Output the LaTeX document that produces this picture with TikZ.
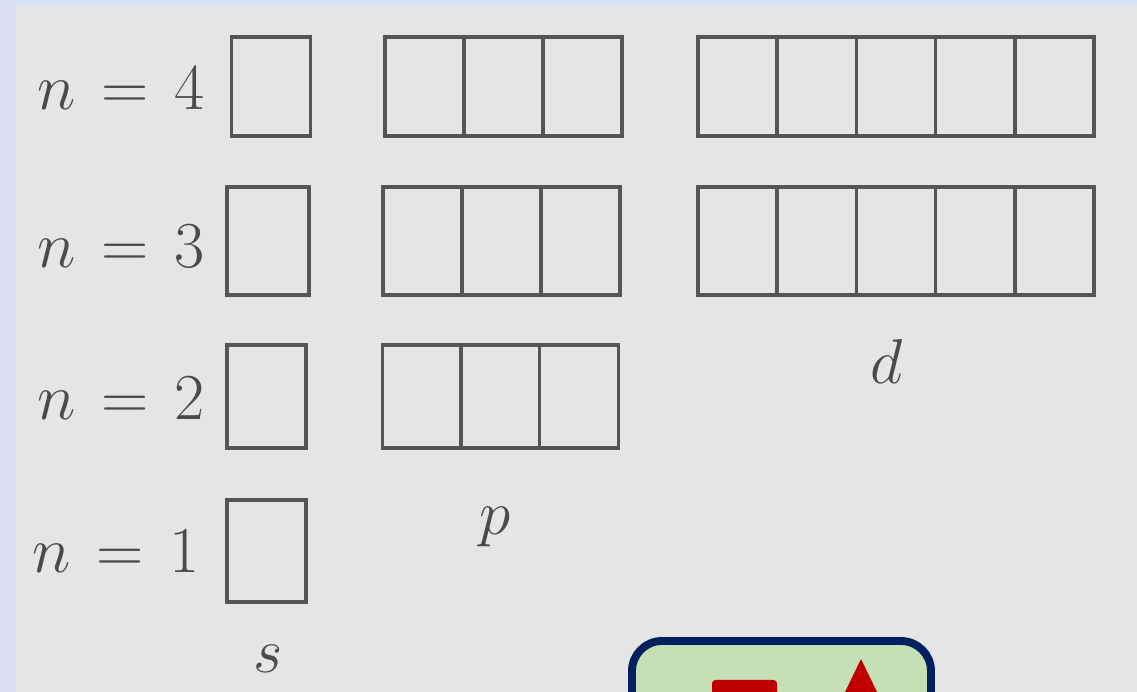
\documentclass[tikz,border=0pt]{standalone}
\usepackage{amsmath,amssymb}
\usepackage{xcolor}
\usepackage{tikz}
\usetikzlibrary{positioning, calc}
\definecolor{pagebg}{HTML}{DAE3F3}
\definecolor{paper}{HTML}{E5E5E5}
\definecolor{cellgray}{HTML}{555555}
\definecolor{labelgray}{HTML}{4A4A4A}
\definecolor{iconfill}{HTML}{C5E0B4}
\definecolor{iconnavy}{HTML}{002060}
\definecolor{iconred}{HTML}{C00000}
\newcommand{\lvl}[1]{$n\mskip2mu=\mskip2mu#1$}
\tikzset{
  % Orbital cell styles
  cell/.style={rectangle, draw=cellgray, line width=1.9pt, minimum width=1.58cm, minimum height=#1, inner sep=0pt},
  cell/.default={2.04cm},
  level/.style={font=\fontsize{24.88}{28}\selectfont, scale=1.5, transform shape, text=labelgray, inner sep=0pt, anchor=base east},
  sublabel/.style={font=\fontsize{24.88}{28}\selectfont, scale=1.45, transform shape, text=labelgray, inner sep=0pt, anchor=base},
}

\begin{document}
\begin{tikzpicture}[x=0.02cm, y=-0.02cm]
    % Background
    \useasboundingbox (0,0) rectangle (1137,692);
    \fill[pagebg] (0,0) rectangle (1137,692);
    \fill[paper] (16,5) rectangle (1137,692);

    % n = 4
    \node[level] (n4) at (205,110) {\lvl{4}};
    \node[cell=1.98cm] (s4) at (271,86.5) {};
    \foreach \i/\x in {1/424.5, 2/503.5, 3/582.5}
      \node[cell=1.98cm] (p4-\i) at (\x,86.5) {};
    \foreach \i/\x in {1/737.6, 2/816.8, 3/896, 4/975.2, 5/1054.4}
      \node[cell=1.98cm] (d4-\i) at (\x,86.5) {};

    % n = 3
    \node[level] (n3) at (205,268) {\lvl{3}};
    \node[cell=2.16cm, minimum width=1.64cm] (s3) at (268,241) {};
    \foreach \i/\x in {1/422.5, 2/501.5, 3/580.5}
      \node[cell=2.16cm] (p3-\i) at (\x,241) {};
    \foreach \i/\x in {1/737.6, 2/816.8, 3/896, 4/975.2, 5/1054.4}
      \node[cell=2.16cm] (d3-\i) at (\x,241) {};

    % n = 2
    \node[level] (n2) at (205,420) {\lvl{2}};
    \node[cell=2.06cm] (s2) at (266.5,396.5) {};
    \foreach \i/\x in {1/422, 2/500, 3/579}
      \node[cell=2.06cm] (p2-\i) at (\x,396.5) {};

    % n = 1
    \node[level] (n1) at (200,573) {\lvl{1}};
    \node[cell] (s1) at (266.5,551) {};

    % Sublevel letters
    \node[sublabel] (slabel) at (268,673) {$s$};
    \node[sublabel] (plabel) at (495,535) {$p$};
    \node[sublabel] (dlabel) at (887,384) {$d$};

    % Icon (cut off at the bottom)
    \begin{scope}
      \clip (0,0) rectangle (1137,692);
      \draw[iconnavy, fill=iconfill, line width=4.5pt, rounded corners=0.6cm] (632,641) rectangle (931,760);
      \fill[iconred, rounded corners=2pt] (712,680) rectangle (777,740);
      \fill[iconred] (861,659) -- (893,725) -- (829,725) -- cycle;
    \end{scope}
\end{tikzpicture}
\end{document}
